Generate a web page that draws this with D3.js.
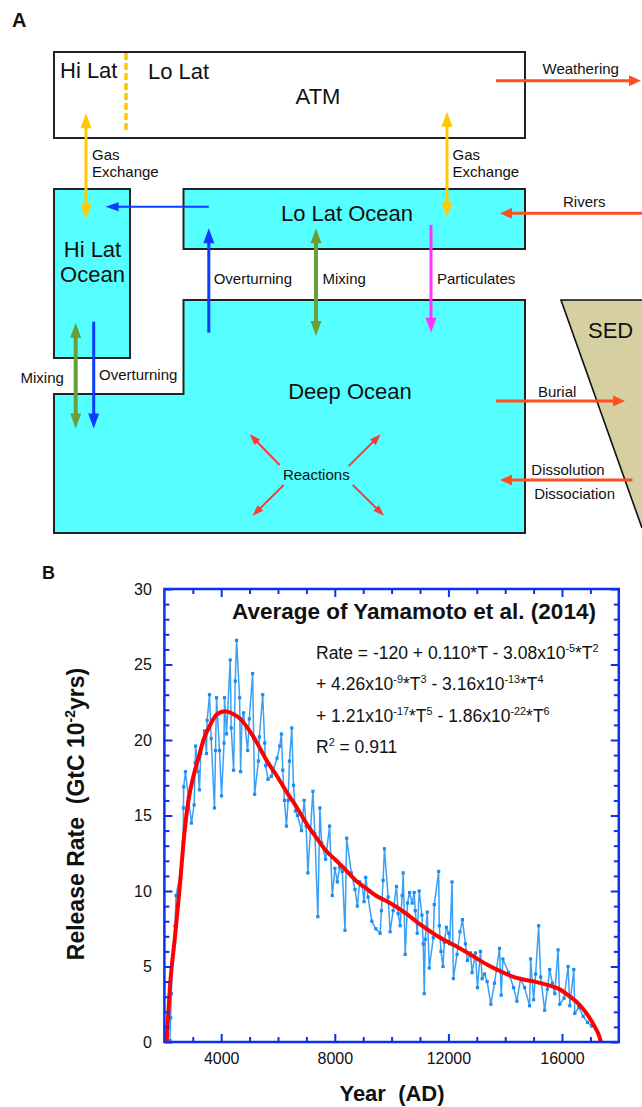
<!DOCTYPE html>
<html>
<head>
<meta charset="utf-8">
<script src="https://cdn.jsdelivr.net/npm/d3@7"></script>
<style>
  html, body { margin: 0; padding: 0; background: #fff; }
  svg text { white-space: pre; }
</style>
</head>
<body>
<script>
// ---------------- DATA ----------------
const blueYears = [2198,2221,2245,2280,2374,2410,2575,2660,2670,2680,2740,2846,2952,3046,3085,3100,3190,3234,3281,3410,3481,3505,3588,3647,3764,3800,3835,3941,4012,4100,4115,4188,4318,4353,4436,4495,4542,4648,4683,4730,4789,4931,4990,5107,5143,5178,5308,5343,5461,5531,5567,
  5649,5767,5814,5967,6062,6120,6168,6226,6297,6356,6403,6486,6545,6615,6686,6827,6921,6992,7051,7228,7298,7404,7475,7534,7675,7817,7911,8005,8088,8170,8264,8359,8417,8582,8712,8794,8877,8971,9030,9089,9171,9301,
  9442,9595,9642,9701,9748,9878,9948,10054,10172,10231,10302,10372,10408,10443,10478,10561,10631,10726,10796,10832,10902,10973,11067,11114,11150,11185,11256,11327,11468,11503,11657,11680,11739,11810,11857,11928,12010,12045,12128,12175,12304,12410,12493,12599,12669,12775,12834,12952,13023,13129,13188,13270,13365,13494,
  13623,13800,13859,13918,14118,14295,14412,14542,14683,14860,14895,15001,15072,15178,15249,15390,15484,15567,15661,15743,15861,15920,16073,16215,16274,16415,16450,16592,16745,16898,17040];
const blueValues = [0.1,1.6,3.2,5.2,7.7,9.7,11.3,13.2,15.5,16.9,17.9,16.2,14.5,15.7,18.5,19.6,17.9,16.7,19.1,20.6,19.1,21.3,23.0,20.1,15.5,19.3,22.8,19.3,16.3,19.8,22.8,20.4,25.3,20.8,18.0,23.9,26.6,22.8,17.9,21.3,21.8,19.3,21.4,24.4,20.1,16.4,18.6,20.2,23.0,19.8,18.3,
  17.4,17.6,17.9,18.8,19.6,20.4,18.0,16.0,14.3,16.0,18.6,20.8,17.0,15.3,15.0,14.0,16.0,14.3,11.2,16.6,13.8,8.3,15.5,13.2,12.1,14.3,9.7,11.5,10.6,11.6,11.3,7.4,13.5,11.2,10.1,9.0,10.6,10.3,9.3,10.9,9.6,8.0,
  7.5,7.2,8.7,10.7,12.8,9.6,7.3,8.7,10.3,8.5,7.7,9.7,11.2,8.6,5.8,9.2,9.9,9.2,9.9,8.7,7.2,10.0,8.4,6.5,3.2,6.8,8.6,4.9,6.9,9.1,11.3,7.7,6.0,5.0,6.6,7.6,7.2,6.5,10.6,4.2,5.8,7.3,8.1,6.5,5.4,5.9,4.6,5.9,3.6,6.0,4.2,4.5,4.0,2.5,
  3.9,6.2,3.1,5.5,4.6,3.6,2.7,4.2,3.6,2.4,5.5,2.8,4.5,7.7,4.3,2.1,3.5,4.8,3.9,3.2,6.1,2.5,2.9,5.0,2.4,4.8,1.9,2.3,1.7,1.3,1.06];

const fitYears = [2080,2198,2374,2551,2692,2846,3022,3199,3376,3611,3847,4141,4436,4671,5141,5614,5968,6321,6674,7028,7322,7675,8029,8382,8735,9089,9442,9854,10443,11032,11621,12210,12799,13388,13859,14212,14566,15037,15508,15861,16215,16568,16863,17157,17298,17369];
const fitValues = [0,3.7,7.0,10.5,13.6,16.0,17.6,18.8,20.0,21.0,21.7,21.9,21.7,21.4,20.2,18.6,17.6,16.5,15.5,14.4,13.6,12.7,12.05,11.4,10.7,10.2,9.7,9.3,8.6,7.75,7.0,6.4,5.76,5.1,4.66,4.37,4.17,4.0,3.77,3.55,3.1,2.56,1.9,1.0,0.46,0];

const xDomain = [2000, 18000];
const yDomain = [0, 30];
const xMajorTicks = [4000, 8000, 12000, 16000];
const xMinorTicks = [3000,5000,6000,7000,9000,10000,11000,13000,14000,15000,17000];
const yMajorTicks = [0, 5, 10, 15, 20, 25, 30];
const yMinorTicks = [1,2,3,4,6,7,8,9,11,12,13,14,16,17,18,19,21,22,23,24,26,27,28,29];

const chartTitle = "Average of Yamamoto et al. (2014)";
const xTitle = "Year  (AD)";

// ---------------- SETUP ----------------
const F = "'Liberation Sans', Arial, Helvetica, sans-serif";
const svg = d3.select("body").append("svg")
  .attr("width", 642).attr("height", 1107)
  .attr("font-family", F);
svg.append("rect").attr("width", 642).attr("height", 1107).attr("fill", "#fff");

const COL = {
  cyan: "#55ffff", sed: "#d5cfa1", box: "#222",
  yellow: "#ffc800", orange: "#ff4f1f", blue: "#0a3cff",
  green: "#6a9f38", magenta: "#ff33ff", red: "#ff3838"
};

function txt(parent, s, x, y, size, opts = {}) {
  return parent.append("text").attr("x", x).attr("y", y)
    .attr("font-size", size)
    .attr("font-weight", opts.bold ? "bold" : null)
    .attr("text-anchor", opts.anchor || "start")
    .attr("fill", "#111").text(s);
}

function arrow(parent, x1, y1, x2, y2, color, o = {}) {
  const w = o.w || 3, hl = o.hl || 15, hw = o.hw || 11;
  const dx = x2 - x1, dy = y2 - y1, L = Math.hypot(dx, dy);
  const ux = dx / L, uy = dy / L, px = -uy, py = ux;
  let sx = x1, sy = y1, ex = x2, ey = y2;
  if (o.start) { sx += ux * (hl - 2); sy += uy * (hl - 2); }
  if (o.end !== false) { ex -= ux * (hl - 2); ey -= uy * (hl - 2); }
  parent.append("line").attr("x1", sx).attr("y1", sy).attr("x2", ex).attr("y2", ey)
    .attr("stroke", color).attr("stroke-width", w);
  const head = (tx, ty, dxu, dyu) => {
    const bx = tx - dxu * hl, by = ty - dyu * hl;
    parent.append("polygon")
      .attr("points", [[tx, ty], [bx + px * hw / 2, by + py * hw / 2], [bx - px * hw / 2, by - py * hw / 2]].map(p => p.join(",")).join(" "))
      .attr("fill", color);
  };
  if (o.end !== false) head(x2, y2, ux, uy);
  if (o.start) head(x1, y1, -ux, -uy);
}

// ---------------- PANEL A : box model ----------------
const A = svg.append("g");
txt(A, "A", 12, 27, 20, { bold: true });

// ATM
A.append("rect").attr("x", 54).attr("y", 52).attr("width", 471).attr("height", 86)
  .attr("fill", "#fff").attr("stroke", COL.box).attr("stroke-width", 2);
A.append("line").attr("x1", 126).attr("y1", 53).attr("x2", 126).attr("y2", 131)
  .attr("stroke", COL.yellow).attr("stroke-width", 3.5).attr("stroke-dasharray", "7,3");
txt(A, "Hi Lat", 60, 77.5, 22);
txt(A, "Lo Lat", 148, 78.5, 22);
txt(A, "ATM", 318, 103.5, 22, { anchor: "middle" });

// Oceans
A.append("rect").attr("x", 54).attr("y", 189).attr("width", 76).attr("height", 169)
  .attr("fill", COL.cyan).attr("stroke", COL.box).attr("stroke-width", 2);
A.append("rect").attr("x", 183.5).attr("y", 189).attr("width", 341.5).attr("height", 60)
  .attr("fill", COL.cyan).attr("stroke", COL.box).attr("stroke-width", 2);
A.append("path").attr("d", "M183.5,300 H525 V533 H54 V394 H183.5 Z")
  .attr("fill", COL.cyan).attr("stroke", COL.box).attr("stroke-width", 2);
// Sediment
A.append("polygon").attr("points", "561,300 642,300 642,528")
  .attr("fill", COL.sed).attr("stroke", "none");
A.append("polyline").attr("points", "642,300 561,300 642,528")
  .attr("fill", "none").attr("stroke", "#111").attr("stroke-width", 1.6);

txt(A, "Lo Lat Ocean", 347, 220.5, 22, { anchor: "middle" });
txt(A, "Hi Lat", 92.5, 256.5, 22, { anchor: "middle" });
txt(A, "Ocean", 92.5, 281.5, 22, { anchor: "middle" });
txt(A, "Deep Ocean", 350, 398.5, 22, { anchor: "middle" });
txt(A, "SED", 588, 337.5, 22);

// Small labels
txt(A, "Weathering", 542.5, 73.5, 15);
txt(A, "Gas", 92, 160, 15); txt(A, "Exchange", 92, 176.5, 15);
txt(A, "Gas", 452.5, 160, 15); txt(A, "Exchange", 452.5, 176.5, 15);
txt(A, "Rivers", 563, 206.5, 15);
txt(A, "Overturning", 213.7, 284, 15);
txt(A, "Mixing", 322.5, 284, 15);
txt(A, "Particulates", 437, 284, 15);
txt(A, "Mixing", 20.5, 383, 15);
txt(A, "Overturning", 99, 379.5, 15);
txt(A, "Burial", 538, 396.5, 15);
txt(A, "Reactions", 316.3, 480, 15, { anchor: "middle" });
txt(A, "Dissolution", 531.3, 475, 15);
txt(A, "Dissociation", 534.2, 498.5, 15);

// Arrows
arrow(A, 496, 80.7, 641, 80.7, COL.orange, { hl: 12, hw: 11 });
arrow(A, 86, 113.3, 86, 219.3, COL.yellow, { start: true });
arrow(A, 447, 111.7, 447, 217.3, COL.yellow, { start: true });
arrow(A, 208.8, 206.7, 105.6, 206.7, COL.blue, { w: 2, hl: 13, hw: 9 });
arrow(A, 642, 213.3, 500, 213.3, COL.orange, { hl: 12, hw: 11 });
arrow(A, 208.8, 332.7, 208.8, 228.3, COL.blue);
arrow(A, 316, 228.3, 316, 336, COL.green, { start: true, w: 4 });
arrow(A, 431, 225, 431, 332.7, COL.magenta);
arrow(A, 75.7, 322.7, 75.7, 428.5, COL.green, { start: true, w: 4 });
arrow(A, 93.7, 321.7, 93.7, 428.5, COL.blue);
arrow(A, 496, 401, 625, 401, COL.orange, { hl: 12, hw: 11 });
arrow(A, 632.4, 480, 500, 480, COL.orange, { hl: 12, hw: 11 });
arrow(A, 279.6, 465, 249.7, 434.3, COL.red, { w: 2, hl: 11, hw: 8 });
arrow(A, 348.7, 466, 380.7, 434.3, COL.red, { w: 2, hl: 11, hw: 8 });
arrow(A, 283.7, 485, 252.6, 515.7, COL.red, { w: 2, hl: 11, hw: 8 });
arrow(A, 352.8, 485, 384, 515.7, COL.red, { w: 2, hl: 11, hw: 8 });

// ---------------- PANEL B : chart ----------------
const B = svg.append("g");
txt(B, "B", 42, 579, 18, { bold: true });

const x = d3.scaleLinear().domain(xDomain).range([164.4, 618.8]);
const y = d3.scaleLinear().domain(yDomain).range([1042, 589]);
const AX = "#0a32e6";

svg.append("defs").append("clipPath").attr("id", "plotclip")
  .append("rect").attr("x", x(xDomain[0])).attr("y", y(yDomain[1]))
  .attr("width", x(xDomain[1]) - x(xDomain[0])).attr("height", y(yDomain[0]) - y(yDomain[1]));

const plot = B.append("g").attr("clip-path", "url(#plotclip)");
const bluePts = d3.zip(blueYears, blueValues);
plot.append("path").datum(bluePts)
  .attr("d", d3.line().x(d => x(d[0])).y(d => y(d[1])))
  .attr("fill", "none").attr("stroke", "#3aa0f5").attr("stroke-width", 1.5);
plot.selectAll("rect.pt").data(bluePts).join("rect").attr("class", "pt")
  .attr("x", d => x(d[0]) - 1.6).attr("y", d => y(d[1]) - 1.6)
  .attr("width", 3.2).attr("height", 3.2).attr("fill", "#1a8cf0");
plot.append("path").datum(d3.zip(fitYears, fitValues))
  .attr("d", d3.line().x(d => x(d[0])).y(d => y(d[1])).curve(d3.curveMonotoneX))
  .attr("fill", "none").attr("stroke", "#ff0000").attr("stroke-width", 4)
  .attr("stroke-linejoin", "round");

// Axes
function styleAxis(g) {
  g.select(".domain").remove();
  g.selectAll(".tick line").attr("stroke", AX).attr("stroke-width", 2);
  g.selectAll(".tick text").attr("fill", "#111").attr("font-size", 16).attr("font-family", F);
}
const pBot = y(0), pTop = y(30), pLft = x(2000), pRgt = x(18000);
B.append("g").attr("transform", `translate(0,${pBot})`)
  .call(d3.axisBottom(x).tickValues(xMajorTicks).tickSize(-8).tickPadding(10.5).tickFormat(d3.format("d"))).call(styleAxis);
B.append("g").attr("transform", `translate(0,${pBot})`)
  .call(d3.axisBottom(x).tickValues(xMinorTicks).tickSize(-5).tickFormat("")).call(styleAxis);
B.append("g").attr("transform", `translate(0,${pTop})`)
  .call(d3.axisTop(x).tickValues(xMajorTicks).tickSize(-8).tickFormat("")).call(styleAxis);
B.append("g").attr("transform", `translate(0,${pTop})`)
  .call(d3.axisTop(x).tickValues(xMinorTicks).tickSize(-5).tickFormat("")).call(styleAxis);
B.append("g").attr("transform", `translate(${pLft},0)`)
  .call(d3.axisLeft(y).tickValues(yMajorTicks).tickSize(-8).tickPadding(12.5).tickFormat(d3.format("d"))).call(styleAxis);
B.append("g").attr("transform", `translate(${pLft},0)`)
  .call(d3.axisLeft(y).tickValues(yMinorTicks).tickSize(-5).tickFormat("")).call(styleAxis);
B.append("g").attr("transform", `translate(${pRgt},0)`)
  .call(d3.axisRight(y).tickValues(yMajorTicks).tickSize(-8).tickFormat("")).call(styleAxis);
B.append("g").attr("transform", `translate(${pRgt},0)`)
  .call(d3.axisRight(y).tickValues(yMinorTicks).tickSize(-5).tickFormat("")).call(styleAxis);

B.append("rect").attr("x", pLft).attr("y", pTop).attr("width", pRgt - pLft).attr("height", pBot - pTop)
  .attr("fill", "none").attr("stroke", AX).attr("stroke-width", 2.5);

// Title and equation
txt(B, chartTitle, 232, 619, 22.5, { bold: true });

function richLine(parent, x0, y0, size, parts) {
  const t = parent.append("text").attr("x", x0).attr("y", y0).attr("font-size", size).attr("fill", "#111");
  let shift = 0;
  parts.forEach(p => {
    if (typeof p === "string") {
      const s = t.append("tspan").text(p);
      if (shift) { s.attr("dy", shift); shift = 0; }
    } else {
      t.append("tspan").attr("dy", -7).attr("font-size", size * 0.62).text(p.sup);
      shift = 7;
    }
  });
  return t;
}
const eqSize = 17.5;
richLine(B, 316, 658.5, eqSize, ["Rate = -120 + 0.110*T - 3.08x10", { sup: "-5" }, "*T", { sup: "2" }]);
richLine(B, 316, 689.5, eqSize, ["+ 4.26x10", { sup: "-9" }, "*T", { sup: "3" }, " - 3.16x10", { sup: "-13" }, "*T", { sup: "4" }]);
richLine(B, 316, 721.5, eqSize, ["+ 1.21x10", { sup: "-17" }, "*T", { sup: "5" }, " - 1.86x10", { sup: "-22" }, "*T", { sup: "6" }]);
richLine(B, 316, 753, eqSize, ["R", { sup: "2" }, " = 0.911"]);

// Axis titles
txt(B, xTitle, 392, 1101, 22, { bold: true, anchor: "middle" });
const yl = B.append("text").attr("transform", "translate(84,814) rotate(-90)")
  .attr("text-anchor", "middle").attr("font-size", 23).attr("font-weight", "bold").attr("fill", "#111");
yl.append("tspan").text("Release Rate  (GtC 10");
yl.append("tspan").attr("dy", -9).attr("font-size", 14).text("-2");
yl.append("tspan").attr("dy", 9).text("yrs)");
</script>
</body>
</html>
